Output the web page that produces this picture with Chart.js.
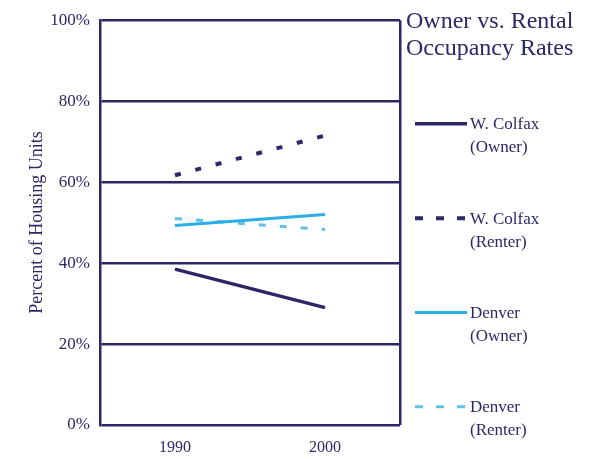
<!DOCTYPE html>
<html>
<head>
<meta charset="utf-8">
<script src="https://cdn.jsdelivr.net/npm/chart.js@4/dist/chart.umd.min.js"></script>
<style>
  html, body { margin: 0; padding: 0; background: #fff; }
  #wrap { width: 598px; height: 459px; position: relative; }
</style>
</head>
<body>
<div id="wrap"><canvas id="chart"></canvas></div>
<script>
var NAVY = '#2c2868';
var BLUE = '#2aaee6';
var BLUE_LIGHT = '#62c2e6';
var SERIF = '"Liberation Serif", "DejaVu Serif", serif';

// data
var YEARS = [1990, 2000];
var COLFAX_OWNER = [38.5, 29];
var COLFAX_RENTER = [61.7, 71.5];
var DENVER_OWNER = [49.3, 52];
var DENVER_RENTER = [51, 48.3];
var X_TICKS = [1985, 1990, 2000, 2005];
var TITLE_LINES = ['Owner vs. Rental', 'Occupancy Rates'];
var LEGEND = [
  ['W. Colfax', '(Owner)'],
  ['W. Colfax', '(Renter)'],
  ['Denver', '(Owner)'],
  ['Denver', '(Renter)']
];

function points(vals) {
  return vals.map(function (v, i) { return { x: YEARS[i], y: v }; });
}

/** Title and line-sample legend in the right margin. */
var sideLegendPlugin = {
  id: 'sideLegend',
  afterDraw: function (chart) {
    var ctx = chart.ctx;
    var area = chart.chartArea;
    var x0 = area.right + 15;
    ctx.save();
    ctx.fillStyle = NAVY;
    ctx.font = '24px ' + SERIF;
    ctx.textBaseline = 'middle';
    TITLE_LINES.forEach(function (t, i) {
      ctx.fillText(t, area.right + 6, 22 + i * 27);
    });

    var h = area.bottom - area.top;
    chart.data.datasets.forEach(function (ds, i) {
      var y = area.top + h * (0.256 + i * 0.233);
      ctx.strokeStyle = ds.borderColor;
      ctx.lineWidth = ds.borderWidth;
      ctx.setLineDash(ds.legendDash || []);
      ctx.beginPath();
      ctx.moveTo(x0, y);
      ctx.lineTo(x0 + 52, y);
      ctx.stroke();
      ctx.setLineDash([]);
      ctx.fillStyle = NAVY;
      ctx.font = '17px ' + SERIF;
      ctx.fillText(LEGEND[i][0], x0 + 55, y + 1);
      ctx.fillText(LEGEND[i][1], x0 + 55, y + 24);
    });
    ctx.restore();
  }
};

new Chart(document.getElementById('chart').getContext('2d'), {
  type: 'line',
  data: {
    datasets: [{
      label: 'W. Colfax (Owner)',
      data: points(COLFAX_OWNER),
      borderColor: NAVY,
      borderWidth: 3.5
    }, {
      label: 'W. Colfax (Renter)',
      data: points(COLFAX_RENTER),
      borderColor: NAVY,
      borderWidth: 4,
      borderDash: [6, 15],
      legendDash: [8, 13]
    }, {
      label: 'Denver (Owner)',
      data: points(DENVER_OWNER),
      borderColor: BLUE,
      borderWidth: 3
    }, {
      label: 'Denver (Renter)',
      data: points(DENVER_RENTER),
      borderColor: BLUE_LIGHT,
      borderWidth: 3,
      borderDash: [7, 14],
      legendDash: [8, 13]
    }]
  },
  options: {
    responsive: true,
    maintainAspectRatio: false,
    animation: false,
    layout: { padding: { top: 15, right: 198, left: 0, bottom: 0 } },
    elements: { point: { radius: 0 }, line: { tension: 0 } },
    plugins: {
      legend: { display: false },
      tooltip: { enabled: false }
    },
    scales: {
      x: {
        type: 'linear',
        min: 1985,
        max: 2005,
        afterBuildTicks: function (scale) {
          scale.ticks = X_TICKS.map(function (v) { return { value: v }; });
        },
        afterFit: function (scale) { scale.height = 34; },
        ticks: {
          autoSkip: false,
          maxRotation: 0,
          color: NAVY,
          font: { family: SERIF, size: 16 },
          padding: 13,
          callback: function (v) { return (v === 1990 || v === 2000) ? String(v) : ''; }
        },
        grid: {
          drawTicks: false,
          lineWidth: 2.5,
          color: function (c) {
            return (c.tick && c.tick.value === 2005) ? NAVY : 'rgba(0,0,0,0)';
          }
        },
        border: { display: false }
      },
      y: {
        min: 0,
        max: 100,
        afterFit: function (scale) { scale.width = 100; },
        ticks: {
          stepSize: 20,
          color: NAVY,
          font: { family: SERIF, size: 17 },
          padding: 10,
          callback: function (v) { return v + '%'; }
        },
        grid: { drawTicks: false, color: NAVY, lineWidth: 2.5 },
        border: { display: true, color: NAVY, width: 2.5 },
        title: {
          display: true,
          text: 'Percent of Housing Units',
          color: NAVY,
          font: { family: SERIF, size: 18 },
          padding: { top: 26, bottom: 0 }
        }
      }
    }
  },
  plugins: [sideLegendPlugin]
});
</script>
</body>
</html>
